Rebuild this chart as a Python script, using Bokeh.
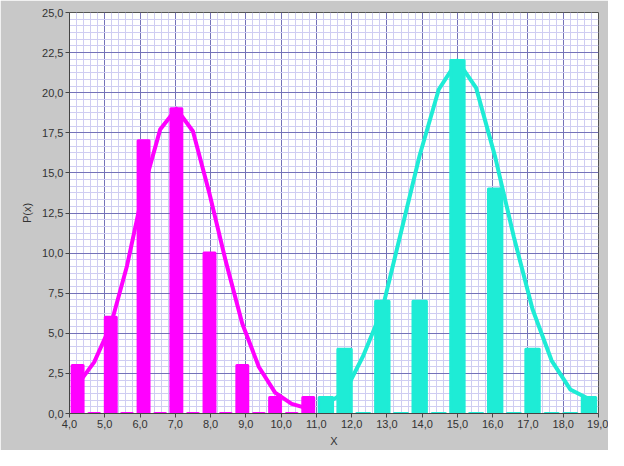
from bokeh.plotting import figure
from bokeh.models import FixedTicker, Range1d
from bokeh.embed import file_html
from bokeh.resources import INLINE

# ---- data ----
x_ticks = [4, 5, 6, 7, 8, 9, 10, 11, 12, 13, 14, 15, 16, 17, 18, 19]
x_tick_labels = ["4,0", "5,0", "6,0", "7,0", "8,0", "9,0", "10,0", "11,0",
                 "12,0", "13,0", "14,0", "15,0", "16,0", "17,0", "18,0", "19,0"]
y_ticks = [0, 2.5, 5, 7.5, 10, 12.5, 15, 17.5, 20, 22.5, 25]
y_tick_labels = ["0,0", "2,5", "5,0", "7,5", "10,0", "12,5", "15,0",
                 "17,5", "20,0", "22,5", "25,0"]

magenta_x = [4.23, 4.70, 5.17, 5.63, 6.10, 6.57, 7.03, 7.50, 7.97, 8.43,
             8.90, 9.37, 9.83, 10.30, 10.77]
magenta_counts = [3, 0, 6, 0, 17, 0, 19, 0, 10, 0, 3, 0, 1, 0, 1]
magenta_fit = [1.8, 3.2, 5.5, 9.2, 14.0, 17.7, 19.0, 17.6, 13.7, 9.5,
               5.6, 2.9, 1.3, 0.6, 0.3]

cyan_x = [11.27, 11.80, 12.33, 12.87, 13.40, 13.93, 14.47, 15.00, 15.53,
          16.07, 16.60, 17.13, 17.67, 18.20, 18.73]
cyan_counts = [1, 4, 0, 7, 0, 7, 0, 22, 0, 14, 0, 4, 0, 0, 1]
cyan_fit = [0.6, 1.3, 3.6, 6.5, 11.3, 16.1, 20.2, 22.0, 20.3, 16.0,
            11.0, 6.5, 3.3, 1.5, 0.9]

# ---- styling ----
MAGENTA = "#ff00ff"
CYAN = "#1eecd6"
GRAY_BG = "#c8c8c8"
TEXT = "#333333"
FONT = "Liberation Sans"

x_minor = [4 + i * 0.2 for i in range(0, 76) if i % 5 != 0]
y_minor = [i * 2.5 / 6 for i in range(0, 61) if i % 6 != 0]

p = figure(width=608, height=450,
           x_range=Range1d(4, 19), y_range=Range1d(0, 25),
           output_backend="svg", toolbar_location=None,
           min_border_left=69, min_border_right=10,
           min_border_top=12, min_border_bottom=37,
           border_fill_color=GRAY_BG, background_fill_color="white",
           outline_line_color="#555555")

p.xaxis.ticker = FixedTicker(ticks=x_ticks, minor_ticks=x_minor)
p.yaxis.ticker = FixedTicker(ticks=y_ticks, minor_ticks=y_minor)
p.xaxis.major_label_overrides = {t: l for t, l in zip(x_ticks, x_tick_labels)}
p.yaxis.major_label_overrides = {t: l for t, l in zip(y_ticks, y_tick_labels)}

p.xaxis.axis_label = "X"
p.yaxis.axis_label = "P(x)"
for ax in (p.xaxis[0], p.yaxis[0]):
    ax.axis_label_text_font_style = "normal"
    ax.axis_label_text_font = FONT
    ax.axis_label_text_font_size = "11px"
    ax.axis_label_text_color = TEXT
    ax.major_label_text_font = FONT
    ax.major_label_text_font_size = "11px"
    ax.major_label_text_color = TEXT
    ax.axis_line_color = "#444444"
    ax.major_tick_line_color = "#444444"
    ax.major_tick_out = 4
    ax.major_tick_in = 0
    ax.minor_tick_out = 0
    ax.minor_tick_in = 0
    ax.major_label_standoff = 2
p.xaxis.axis_label_standoff = 4
p.yaxis.axis_label_standoff = 6

for g in (p.xgrid[0], p.ygrid[0]):
    g.grid_line_color = "#7472b8"
    g.grid_line_width = 1
    g.minor_grid_line_color = "#cfcdf2"
    g.minor_grid_line_width = 1

# curves (drawn below the bars)
p.line(magenta_x, magenta_fit, line_color=MAGENTA, line_width=4,
       line_join="round", line_cap="round")
p.line(cyan_x, cyan_fit, line_color=CYAN, line_width=4,
       line_join="round", line_cap="round")

# histogram bars
p.vbar(x=magenta_x, top=magenta_counts, bottom=0, width=0.31,
       fill_color=MAGENTA, line_color=MAGENTA, line_width=3, line_join="round")
p.vbar(x=cyan_x, top=cyan_counts, bottom=0, width=0.38,
       fill_color=CYAN, line_color=CYAN, line_width=3, line_join="round")

open("out.html", "w").write(file_html(p, INLINE))
